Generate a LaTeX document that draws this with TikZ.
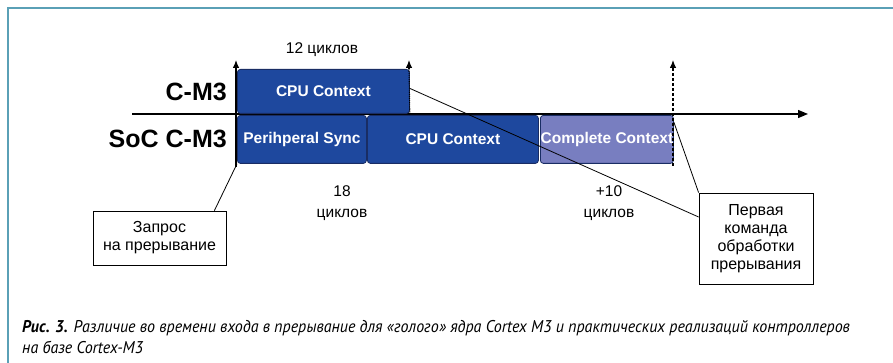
\documentclass[tikz,border=0pt]{standalone}
\usepackage{fontspec}
\setmainfont{Liberation Sans}
\newfontfamily\capfont[FakeStretch=0.94]{PT Sans}
\usetikzlibrary{arrows.meta}
\definecolor{framec}{RGB}{90,160,182}
\definecolor{dblue}{RGB}{30,72,158}
\definecolor{lblue}{RGB}{120,126,192}
\definecolor{bordc}{RGB}{25,45,100}
\begin{document}
\begin{tikzpicture}[x=1pt,y=-1pt,
  blk/.style={draw=bordc, line width=0.8pt, rounded corners=3pt, text=white,
    font=\bfseries\fontsize{15.5}{17}\selectfont, inner sep=0pt, anchor=north west},
  lbl/.style={font=\fontsize{15.5}{21}\selectfont, align=center},
  big/.style={font=\bfseries\fontsize{25}{28}\selectfont, anchor=east, inner sep=0pt},
  note/.style={draw, line width=0.8pt, font=\fontsize{16}{18}\selectfont, align=center, inner sep=0pt},
  conn/.style={line width=0.8pt},
  tick/.style={line width=1.1pt},
  tip/.style={line width=1.1pt, -{Latex[length=8pt,width=6.5pt]}}]
\useasboundingbox (0,0) rectangle (893,363);
\fill[white] (0,0) rectangle (893,363);
\draw[framec, line width=2.5pt] (8,363) -- (8,8) -- (893,8);
% axis
\coordinate (ax0) at (132,114);
\coordinate (ax1) at (808,114);
\draw[line width=1.3pt, -{Triangle[length=10pt,width=8pt]}] (ax0) -- (ax1);
% row labels
\node[big] (lc) at (227,92) {C-M3};
\node[big] (ls) at (227,139) {SoC C-M3};
% blocks
\node[blk, fill=dblue, minimum width=172pt, minimum height=44pt] (cpu1) at (237,69) {CPU Context};
\node[blk, fill=dblue, minimum width=129pt, minimum height=48pt] (sync) at (237,115) {Perihperal Sync};
\node[blk, fill=dblue, minimum width=171pt, minimum height=48pt] (cpu2) at (367,115) {CPU Context};
\node[blk, fill=lblue, minimum width=133pt, minimum height=48pt] (comp) at (540,115) {Complete Context};
% vertical markers
\coordinate (m1b) at (236,167);
\coordinate (m1t) at (236,60);
\coordinate (m2t) at (409,60);
\coordinate (m2h) at (409,69);
\coordinate (m3b) at (673,166);
\coordinate (m3h) at (673,69);
\coordinate (m3t) at (673,60);
\draw[tip] (m1b) -- (m1t);
\draw[tick, densely dotted] (cpu1.south east) -- (m2h);
\draw[tip] (m2h) -- (m2t);
\draw[tick, densely dashed] (m3b) -- (m3h);
\draw[tip] (m3h) -- (m3t);
% text labels
\node[lbl] (t12) at (322,50) {12 циклов};
\node[lbl] (t18) at (342,203) {18\\циклов};
\node[lbl] (t10) at (609,203) {+10\\циклов};
% notes
\node[note, minimum width=133pt, minimum height=54pt] (zap) at (159.5,238) {Запрос\\на прерывание};
\node[note, minimum width=114pt, minimum height=91pt] (perv) at (756,238.5) {Первая\\команда\\обработки\\прерывания};
% connectors
\draw[conn] ([xshift=-12pt]zap.north east) -- (sync.south west);
\draw[conn] ([yshift=3pt]cpu1.east) -- ([yshift=21.5pt]perv.west);
\draw[conn] ([yshift=-7pt]comp.north east) -- (perv.north west);
% caption
\node[anchor=base west, inner sep=0pt, font=\capfont\itshape\fontsize{17}{19}\selectfont] (cap1) at (22,332)
  {\textbf{Рис. 3.} Различие во времени входа в прерывание для «голого» ядра Cortex M3 и практических реализаций контроллеров};
\node[anchor=base west, inner sep=0pt, font=\capfont\itshape\fontsize{17}{19}\selectfont] (cap2) at (22,353)
  {на базе Cortex-M3};
\end{tikzpicture}
\end{document}
